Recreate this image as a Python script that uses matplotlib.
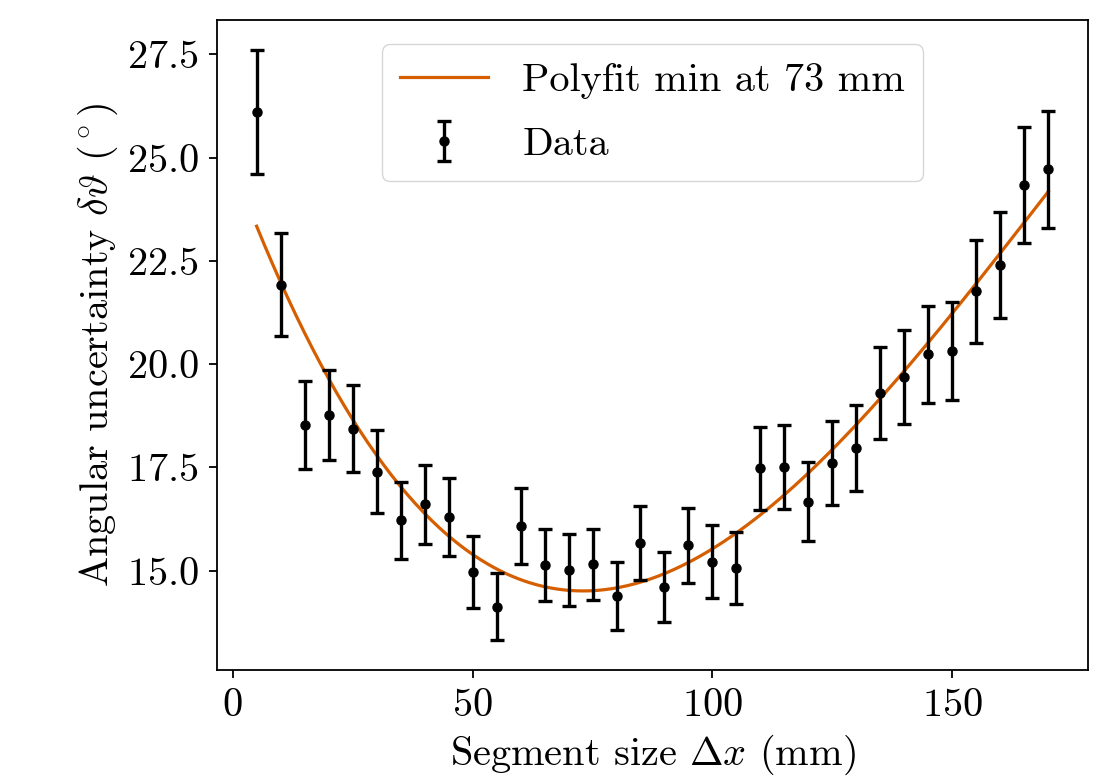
import numpy as np
import matplotlib
matplotlib.use("Agg")
import matplotlib.pyplot as plt

plt.rcParams["font.family"] = "serif"
plt.rcParams["font.serif"] = ["cmr10"]
plt.rcParams["mathtext.fontset"] = "cm"
plt.rcParams["axes.formatter.use_mathtext"] = True
plt.rcParams["font.size"] = 29

seg_size = [5, 10, 15, 20, 25, 30, 35, 40, 45, 50, 55, 60, 65, 70, 75, 80, 85,
            90, 95, 100, 105, 110, 115, 120, 125, 130, 135, 140, 145, 150, 155,
            160, 165, 170]
ang_unc = [26.11, 21.92, 18.52, 18.77, 18.44, 17.40, 16.22, 16.61, 16.30, 14.96,
           14.13, 16.08, 15.13, 15.01, 15.15, 14.39, 15.67, 14.60, 15.61, 15.22,
           15.06, 17.48, 17.51, 16.67, 17.60, 17.98, 19.30, 19.68, 20.24, 20.32,
           21.76, 22.40, 24.33, 24.72]
ang_err = [1.50, 1.25, 1.07, 1.08, 1.06, 1.00, 0.93, 0.96, 0.94, 0.87,
           0.82, 0.93, 0.87, 0.87, 0.87, 0.83, 0.90, 0.85, 0.90, 0.88,
           0.87, 1.01, 1.01, 0.96, 1.02, 1.04, 1.11, 1.14, 1.17, 1.18,
           1.25, 1.29, 1.40, 1.42]

x = np.array(seg_size, dtype=float)
y = np.array(ang_unc)
err = np.array(ang_err)

# kubischer Fit
coef = np.polyfit(x, y, 3)
x_fit = np.linspace(x.min(), x.max(), 300)
y_fit = np.polyval(coef, x_fit)

fig = plt.figure(figsize=(11.17, 7.8), dpi=100)
ax = fig.add_axes([0.1943, 0.141, 0.7797, 0.833])

ax.plot(x_fit, y_fit, color="#D55E00", lw=2.3, label="Polyfit min at 73 mm", zorder=2)
ax.errorbar(x, y, yerr=err, fmt="o", color="black", ms=6.5, elinewidth=2.4,
            capsize=5, capthick=2.4, label="Data", zorder=3)

ax.set_xlabel(r"Segment size $\Delta x$ (mm)", labelpad=6)
ax.set_ylabel(r"Angular uncertainty $\delta\vartheta$ ($^\circ$)", labelpad=5)
ax.set_xticks([0, 50, 100, 150])
ax.set_yticks([15.0, 17.5, 20.0, 22.5, 25.0, 27.5])
ax.tick_params(length=6, width=1.3, pad=7)
for s in ax.spines.values():
    s.set_linewidth(1.3)

ax.legend(loc="upper center", handlelength=2.2, labelspacing=0.7,
          borderpad=0.45, handletextpad=0.85, borderaxespad=0.6)

fig.savefig("out.png", dpi=100)
plt.close(fig)
